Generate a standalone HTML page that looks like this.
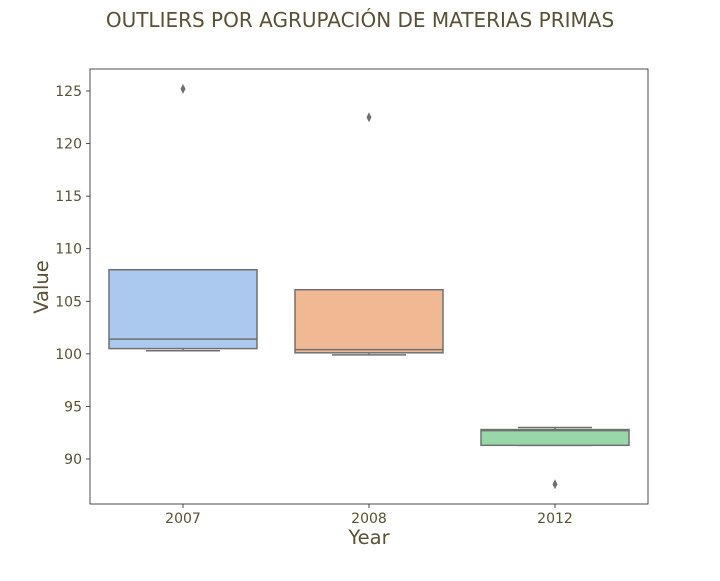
<!DOCTYPE html>
<html><head><meta charset="utf-8"><style>
body{margin:0;background:#fff;}
svg text{font-family:"DejaVu Sans","Liberation Sans",sans-serif;fill:#5a5035;}
</style></head><body>
<svg width="720" height="576" xmlns="http://www.w3.org/2000/svg">
<text x="360" y="27" text-anchor="middle" font-size="20">OUTLIERS POR AGRUPACIÓN DE MATERIAS PRIMAS</text>
<rect x="90" y="69" width="558" height="435" fill="#fff" stroke="#222" stroke-width="0.8"/>
<g id="yaxis"></g><g id="boxes"></g>
<text x="369" y="544" text-anchor="middle" font-size="19.5">Year</text>
<text transform="translate(48,287) rotate(-90)" text-anchor="middle" font-size="19.5">Value</text>
</svg>
<script>
const categories=["2007","2008","2012"];
const q1=[100.5,100.1,91.3];
const median=[101.4,100.4,92.7];
const q3=[108.0,106.1,92.8];
const whiskLo=[100.3,99.9,91.3];
const whiskHi=[108.0,106.1,93.0];
const outliers=[[125.2],[122.5],[87.6]];
const colors=["#abc9ee","#f1b894","#98d8a8"];
const yTicks=[90,95,100,105,110,115,120,125];
const NS="http://www.w3.org/2000/svg";
const y=v=>459-(v-90)*(368/35);
const x=i=>183+i*186;
function mk(t,a,p){const e=document.createElementNS(NS,t);for(const k in a)e.setAttribute(k,a[k]);p.appendChild(e);return e;}
const ya=document.getElementById('yaxis');
yTicks.forEach(t=>{
 const l=mk('line',{x1:86,x2:90,y1:y(t),y2:y(t),stroke:'#222','stroke-width':0.8},ya);
 
 
 const tx=mk('text',{x:82,y:y(t)+5,'text-anchor':'end','font-size':14},ya);tx.textContent=t;
 
 
});
const bx=document.getElementById('boxes');
const gray='#707070';
categories.forEach((c,i)=>{
 const cx=x(i),hw=74,cw=37;
 const g=mk('g',{},bx);
 
 
 mk('line',{x1:cx,x2:cx,y1:y(q3[i]),y2:y(whiskHi[i]),stroke:gray,'stroke-width':1.5},g);
 mk('line',{x1:cx,x2:cx,y1:y(q1[i]),y2:y(whiskLo[i]),stroke:gray,'stroke-width':1.5},g);
 mk('line',{x1:cx-cw,x2:cx+cw,y1:y(whiskHi[i]),y2:y(whiskHi[i]),stroke:gray,'stroke-width':1.5},g);
 mk('line',{x1:cx-cw,x2:cx+cw,y1:y(whiskLo[i]),y2:y(whiskLo[i]),stroke:gray,'stroke-width':1.5},g);
 mk('rect',{x:cx-hw,y:y(q3[i]),width:2*hw,height:y(q1[i])-y(q3[i]),fill:colors[i],stroke:gray,'stroke-width':1.5},g);
 mk('line',{x1:cx-hw,x2:cx+hw,y1:y(median[i]),y2:y(median[i]),stroke:gray,'stroke-width':1.5},g);
 outliers[i].forEach(o=>{
  const d=mk('path',{d:`M${cx},${y(o)-5}L${cx+2.5},${y(o)}L${cx},${y(o)+5}L${cx-2.5},${y(o)}Z`,fill:gray},g);
  
  
 });
 mk('line',{x1:cx,x2:cx,y1:504,y2:508,stroke:'#222','stroke-width':0.8},bx);
 const t=mk('text',{x:cx,y:523,'text-anchor':'middle','font-size':14},bx);t.textContent=c;
 
 
});
</script>
</body></html>
